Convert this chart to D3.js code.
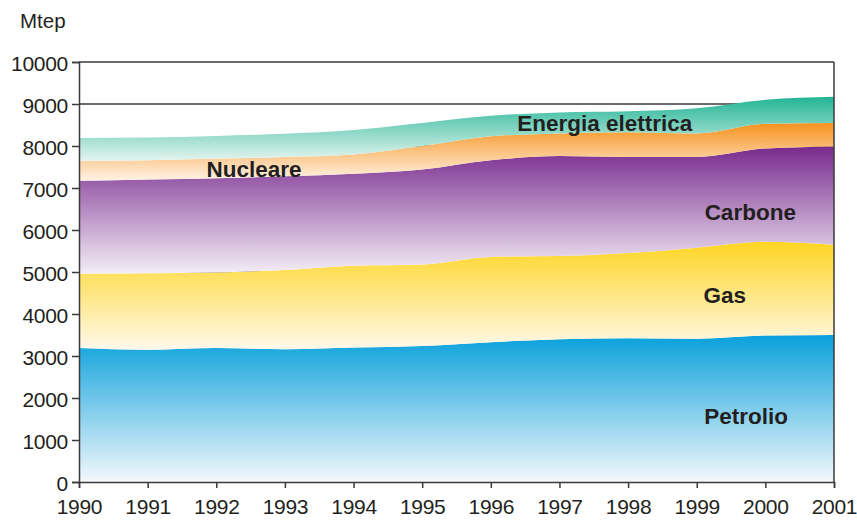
<!DOCTYPE html>
<html>
<head>
<meta charset="utf-8">
<script src="https://cdn.jsdelivr.net/npm/d3@7"></script>
<style>
  body { margin: 0; background: #fff; }
  text { font-family: "Liberation Sans", Arial, sans-serif; fill: #231f20; }
</style>
</head>
<body>
<svg id="thesvg" width="857" height="520"></svg>
<script>
'use strict';

// years and energy consumption per source (Mtep)
const years = [1990, 1991, 1992, 1993, 1994, 1995, 1996, 1997, 1998, 1999, 2000, 2001];
const petrolio = [3190, 3150, 3190, 3160, 3200, 3240, 3330, 3400, 3420, 3410, 3490, 3500];
const gas      = [1770, 1820, 1800, 1890, 1950, 1940, 2030, 1980, 2030, 2170, 2230, 2150];
const carbone  = [2210, 2230, 2240, 2230, 2190, 2260, 2300, 2380, 2290, 2160, 2220, 2340];
const nucleare = [470, 460, 470, 460, 460, 560, 570, 540, 590, 560, 590, 560];
const elettrica = [550, 540, 540, 550, 580, 550, 490, 500, 500, 600, 570, 620];
const yTicks = [0, 1000, 2000, 3000, 4000, 5000, 6000, 7000, 8000, 9000, 10000];

const keys = ["petrolio", "gas", "carbone", "nucleare", "elettrica"];
const series = {petrolio, gas, carbone, nucleare, elettrica};
const labels = {
  petrolio: "Petrolio", gas: "Gas", carbone: "Carbone",
  nucleare: "Nucleare", elettrica: "Energia elettrica"
};
// gradient colours: top (saturated) and bottom (pale)
const colors = {
  petrolio:  ["#09a0db", "#f4f8fc"],
  gas:       ["#fed522", "#fff9ec"],
  carbone:   ["#782a8e", "#f4eef6"],
  nucleare:  ["#f7921e", "#fff3e6"],
  elettrica: ["#22b595", "#e6f5f0"]
};
// label baselines (year, value) for the layer names
const labelPos = {
  petrolio:  [1999.72, 1380],
  gas:       [1999.41, 4255],
  carbone:   [1999.78, 6240],
  nucleare:  [1992.55, 7270],
  elettrica: [1997.66, 8357]
};

const svg = d3.select("#thesvg"),
    margin = {top: 62, right: 23, bottom: 38, left: 79},
    width = +svg.attr("width") - margin.left - margin.right,
    height = +svg.attr("height") - margin.top - margin.bottom;

const x = d3.scaleLinear().domain([1990, 2001]).range([0, width]);
const y = d3.scaleLinear().domain([0, 10000]).range([height, 0]);

const table = years.map((yr, i) => {
  const row = {year: yr};
  keys.forEach(k => row[k] = series[k][i]);
  return row;
});
const stacked = d3.stack().keys(keys)(table);

const defs = svg.append("defs");
keys.forEach(k => {
  const g = defs.append("linearGradient")
      .attr("id", "grad_" + k)
      .attr("x1", 0).attr("y1", 0).attr("x2", 0).attr("y2", 1);
  g.append("stop").attr("offset", "0%").attr("stop-color", colors[k][0]);
  g.append("stop").attr("offset", "100%").attr("stop-color", colors[k][1]);
});

const g = svg.append("g")
    .attr("transform", "translate(" + margin.left + "," + margin.top + ")");

// gridlines (only the top ones show above the areas)
g.append("g")
    .selectAll("line")
    .data(yTicks.filter(d => d > 0))
  .enter().append("line")
    .attr("x1", 0).attr("x2", width)
    .attr("y1", d => y(d)).attr("y2", d => y(d))
    .attr("stroke", "#3a3a3a")
    .attr("stroke-width", 1.5);

const area = d3.area()
    .curve(d3.curveMonotoneX)
    .x(d => x(d.data.year))
    .y0(d => y(d[0]))
    .y1(d => y(d[1]));

g.selectAll(".layer")
    .data(stacked)
  .enter().append("path")
    .attr("class", "layer")
    .attr("d", area)
    .attr("fill", d => "url(#grad_" + d.key + ")");

// right border
g.append("line")
    .attr("x1", width).attr("x2", width)
    .attr("y1", 0).attr("y2", height)
    .attr("stroke", "#3a3a3a")
    .attr("stroke-width", 1.5);

const xAxis = g.append("g")
    .attr("transform", "translate(0," + height + ")")
    .call(d3.axisBottom(x).tickValues(years).tickFormat(d3.format("d")).tickSizeOuter(0).tickSize(6).tickPadding(11));

const yAxis = g.append("g")
    .call(d3.axisLeft(y).tickValues(yTicks).tickFormat(d => d).tickSizeOuter(0).tickSize(7).tickPadding(4));

[xAxis, yAxis].forEach(ax => {
  ax.select(".domain").attr("stroke", "#3a3a3a").attr("stroke-width", 1.5);
  ax.selectAll(".tick line").attr("stroke", "#3a3a3a").attr("stroke-width", 1.5);
  ax.selectAll(".tick text")
      .style("font-family", "'Liberation Sans', Arial, sans-serif")
      .style("font-size", "21px")
      .style("letter-spacing", "-0.3px")
      .attr("fill", "#231f20");
});
yAxis.selectAll(".tick text").attr("dy", "0.4em");
xAxis.selectAll(".tick text").attr("dy", "0.7em");

// unit label
svg.append("text")
    .attr("x", 20)
    .attr("y", 28)
    .style("font-size", "20.5px")
    .text("Mtep");

// layer names
g.selectAll(".lbl")
    .data(keys)
  .enter().append("text")
    .attr("class", "lbl")
    .attr("x", d => x(labelPos[d][0]))
    .attr("y", d => y(labelPos[d][1]))
    .attr("text-anchor", "middle")
    .style("font-size", "22.5px")
    .style("font-weight", "bold")
    .text(d => labels[d]);
</script>
</body>
</html>
